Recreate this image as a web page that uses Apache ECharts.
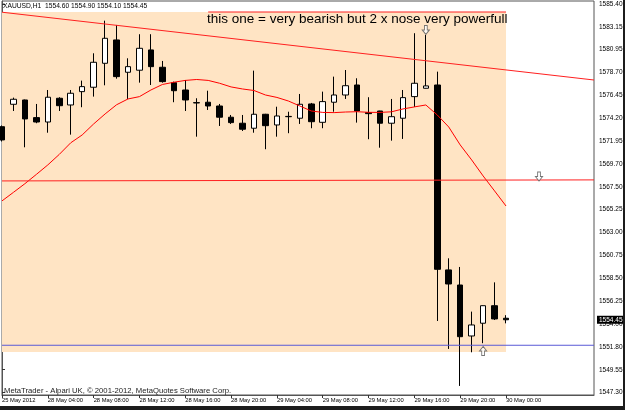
<!DOCTYPE html>
<html>
<head>
<meta charset="utf-8">
<script src="https://cdn.jsdelivr.net/npm/echarts@6/dist/echarts.min.js"></script>
<style>
  html, body { margin: 0; padding: 0; background: #1c1c1c; }
  #chart { width: 623px; height: 406px; background: #fff; }
</style>
</head>
<body>
<div id="chart"></div>
<script>
// bar index -> x tick label (every 4 bars)
var xTickBars = [0, 4, 8, 12, 16, 20, 24, 28, 32, 36, 40, 44];
var xLabels = ['25 May 2012', '28 May 04:00', '28 May 08:00', '28 May 12:00', '28 May 16:00', '28 May 20:00',
               '29 May 04:00', '29 May 08:00', '29 May 12:00', '29 May 16:00', '29 May 20:00', '30 May 00:00'];

var yTicks = [1585.40, 1583.15, 1580.95, 1578.70, 1576.45, 1574.20, 1571.95, 1569.70, 1567.50,
              1565.25, 1563.00, 1560.75, 1558.50, 1556.25, 1554.00, 1551.80, 1549.55, 1547.30];

// XAUUSD H1 candles: [open, close, low, high]
var candles = [
    [1573.39, 1572.09, 1571.94, 1573.51],
    [1575.59, 1576.08, 1574.93, 1576.24],
    [1576.01, 1574.15, 1571.37, 1576.05],
    [1574.28, 1573.85, 1573.73, 1575.62],
    [1573.85, 1576.28, 1572.80, 1576.99],
    [1576.18, 1575.45, 1574.93, 1576.28],
    [1575.52, 1576.67, 1572.61, 1576.99],
    [1576.83, 1577.32, 1575.30, 1577.91],
    [1577.26, 1579.71, 1576.34, 1580.59],
    [1579.61, 1582.06, 1577.45, 1583.79],
    [1581.90, 1578.30, 1578.10, 1583.37],
    [1578.73, 1579.28, 1576.11, 1580.10],
    [1578.93, 1581.08, 1577.71, 1582.46],
    [1580.92, 1579.28, 1577.48, 1582.46],
    [1579.22, 1577.81, 1577.71, 1579.84],
    [1577.71, 1576.92, 1575.79, 1577.81],
    [1576.99, 1576.01, 1574.93, 1577.97],
    [1575.75, 1575.72, 1572.41, 1576.18],
    [1575.79, 1575.42, 1575.03, 1576.92],
    [1575.42, 1574.32, 1573.46, 1575.62],
    [1574.32, 1573.79, 1573.66, 1574.54],
    [1573.73, 1573.14, 1572.97, 1574.54],
    [1573.24, 1574.61, 1572.80, 1578.89],
    [1574.61, 1573.49, 1571.18, 1574.65],
    [1573.56, 1574.44, 1572.41, 1575.35],
    [1574.37, 1574.40, 1572.75, 1574.86],
    [1574.22, 1575.59, 1573.66, 1576.60],
    [1575.62, 1573.88, 1573.24, 1575.72],
    [1573.82, 1575.85, 1573.24, 1576.83],
    [1575.79, 1576.50, 1574.86, 1578.30],
    [1576.50, 1577.41, 1576.11, 1578.95],
    [1577.48, 1574.93, 1573.79, 1578.14],
    [1574.77, 1574.67, 1572.16, 1576.28],
    [1574.93, 1573.73, 1571.33, 1574.95],
    [1573.73, 1574.37, 1572.02, 1576.11],
    [1574.22, 1576.24, 1572.19, 1576.99],
    [1576.34, 1577.65, 1575.33, 1582.56],
    [1577.16, 1577.39, 1577.14, 1582.39],
    [1577.48, 1559.40, 1554.33, 1578.79],
    [1559.34, 1557.96, 1551.59, 1560.48],
    [1557.86, 1552.79, 1547.96, 1559.63],
    [1552.86, 1553.94, 1551.26, 1555.25],
    [1554.11, 1555.83, 1552.15, 1555.85],
    [1555.83, 1554.53, 1554.43, 1558.12],
    [1554.60, 1554.45, 1554.10, 1554.90]
];

// moving average, one value per bar
var maValues = [1566.11, 1566.95, 1567.80, 1568.71, 1569.64, 1570.67, 1571.81, 1572.58, 1573.66, 1574.64,
                1575.54, 1576.11, 1576.34, 1576.99, 1577.53, 1577.75, 1577.93, 1578.02, 1577.93, 1577.65,
                1577.29, 1577.09, 1576.94, 1576.50, 1576.26, 1575.91, 1575.42, 1574.93, 1574.79, 1574.77,
                1574.83, 1574.86, 1574.80, 1574.79, 1574.85, 1575.13, 1575.33, 1575.52, 1574.54, 1573.36,
                1571.60, 1570.13, 1568.56, 1567.09, 1565.61];

// drawn objects: [bar, price]
var trendDown = [[0, 1584.62], [51.68, 1577.97]];
var topLine = [[18, 1584.64], [44, 1584.64]];
var midLine = [[0, 1568.07], [51.68, 1568.17]];
var blueLine = [[0, 1551.95], [51.68, 1551.95]];
var boxCorners = [[0, 1584.64], [44, 1551.29]];
var downArrows = [[37, 1582.88], [46.88, 1568.50]];
var upArrows = [[42, 1551.39]];
var lastPrice = 1554.45;

var FONT = 'Liberation Sans';
var arrowDown = 'path://M3,0 L7,0 L7,5 L10,5 L5,10 L0,5 L3,5 Z';
var arrowUp = 'path://M5,0 L10,5 L7,5 L7,10 L3,10 L3,5 L0,5 Z';

var chart = echarts.init(document.getElementById('chart'));

var option = {
    animation: false,
    backgroundColor: '#fff',
    title: [{
        text: 'XAUUSD,H1  1554.60 1554.90 1554.10 1554.45',
        left: 3, top: 3, padding: 0,
        textStyle: { fontFamily: FONT, fontSize: 6.7, fontWeight: 'normal', color: '#000' }
    }, {
        text: 'this one = very bearish but 2 x nose very powerfull',
        left: 207, top: 12, padding: 0,
        textStyle: { fontFamily: FONT, fontSize: 13.5, fontWeight: 'normal', color: '#000' }
    }, {
        text: 'MetaTrader - Alpari UK, \u00a9 2001-2012, MetaQuotes Software Corp.',
        left: 4, top: 386.5, padding: 0,
        textStyle: { fontFamily: FONT, fontSize: 7.7, fontWeight: 'normal', color: '#222' }
    }],
    grid: {
        left: 2, right: 29, top: 1, bottom: 11,
        outerBoundsMode: 'none',
        containLabel: false,
        show: true, borderColor: '#555', borderWidth: 1, backgroundColor: '#fff'
    },
    xAxis: {
        type: 'value', min: 0, max: 51.68,
        axisLine: { show: true, lineStyle: { color: '#555', width: 1 } },
        axisTick: { show: true, customValues: xTickBars, length: 3, lineStyle: { color: '#333' } },
        axisLabel: {
            customValues: xTickBars, align: 'left', margin: 2,
            fontFamily: FONT, fontSize: 5.8, color: '#000',
            formatter: function (v) {
                var i = xTickBars.indexOf(Math.round(v));
                return i < 0 ? '' : xLabels[i];
            }
        },
        splitLine: { show: false }
    },
    yAxis: [{
        type: 'value', position: 'right', min: 1547.07, max: 1585.72,
        axisLine: { show: true, lineStyle: { color: '#555', width: 1 } },
        axisTick: { show: true, customValues: yTicks, length: 3, lineStyle: { color: '#333' } },
        axisLabel: {
            customValues: yTicks, margin: 5,
            fontFamily: FONT, fontSize: 6.5, color: '#000',
            formatter: function (v) { return v.toFixed(2); }
        },
        splitLine: { show: false }
    }, {
        type: 'value', position: 'right', min: 1547.07, max: 1585.72,
        axisLine: { show: false }, axisTick: { show: false },
        axisLabel: {
            customValues: [lastPrice], margin: 3,
            fontFamily: FONT, fontSize: 6.5, color: '#fff',
            backgroundColor: '#000', padding: [1, 2, 0, 2],
            formatter: function (v) { return v.toFixed(2); }
        },
        splitLine: { show: false }
    }],
    series: [{
        type: 'line', data: [], z: 1, silent: true,
        markArea: {
            silent: true,
            itemStyle: { color: '#ffe4c4' },
            data: [[{ coord: boxCorners[0] }, { coord: boxCorners[1] }]]
        }
    }, {
        type: 'candlestick',
        z: 2,
        barWidth: 6,
        data: candles.map(function (c, i) { return [i, c[0], c[1], c[2], c[3]]; }),
        itemStyle: {
            color: '#fff', color0: '#000',
            borderColor: '#000', borderColor0: '#000', borderColorDoji: '#000',
            borderWidth: 1
        }
    }, {
        name: 'MA', type: 'line', z: 3, symbol: 'none',
        data: maValues.map(function (v, i) { return [i, v]; }),
        lineStyle: { color: '#ff0000', width: 1 }
    }, {
        type: 'line', z: 3, symbol: 'none', data: trendDown,
        lineStyle: { color: '#ff2020', width: 1 }
    }, {
        type: 'line', z: 3, symbol: 'none', data: topLine,
        lineStyle: { color: '#ff2020', width: 1 }
    }, {
        type: 'line', z: 3, symbol: 'none', data: midLine,
        lineStyle: { color: '#ff2020', width: 1 }
    }, {
        type: 'line', z: 3, symbol: 'none', data: blueLine,
        lineStyle: { color: '#5a5ad6', width: 1 }
    }, {
        type: 'scatter', z: 4, symbol: arrowDown, symbolSize: [7, 9], data: downArrows,
        itemStyle: { color: '#fff', borderColor: '#555', borderWidth: 1 }
    }, {
        type: 'scatter', z: 4, symbol: arrowUp, symbolSize: [7, 9], data: upArrows,
        itemStyle: { color: '#fff', borderColor: '#555', borderWidth: 1 }
    }]
};

chart.setOption(option);
</script>
</body>
</html>
